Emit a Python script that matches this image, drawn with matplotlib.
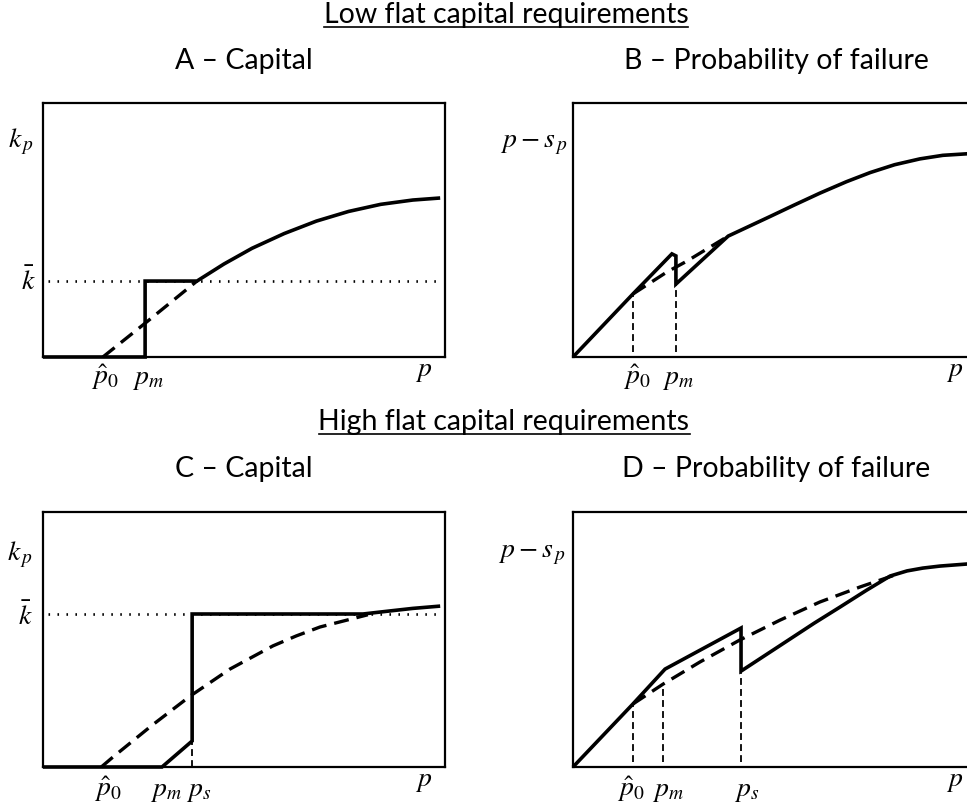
import matplotlib
matplotlib.use('Agg')
import matplotlib.pyplot as plt
from matplotlib.lines import Line2D
from matplotlib import font_manager

# ---------------- data (axes units 0..1) ----------------
# Panel A - capital, low flat requirement
A_solid_x = [0.0, 0.254, 0.254, 0.383, 0.45, 0.52, 0.60, 0.68, 0.76, 0.84, 0.92, 0.988]
A_solid_y = [0.0, 0.0, 0.299, 0.299, 0.366, 0.428, 0.486, 0.535, 0.573, 0.601, 0.618, 0.626]
A_dash_x = [0.149, 0.254, 0.383]
A_dash_y = [0.0, 0.133, 0.299]
A_kbar = 0.299
A_pm = 0.254

# Panel B - probability of failure, low flat requirement
B_solid_x = [0.0, 0.149, 0.246, 0.256, 0.256, 0.386, 0.49, 0.55, 0.614, 0.68, 0.739, 0.80, 0.863, 0.92, 0.98, 1.0]
B_solid_y = [0.0, 0.248, 0.406, 0.398, 0.287, 0.476, 0.553, 0.598, 0.645, 0.690, 0.726, 0.757, 0.780, 0.794, 0.800, 0.800]
B_dash_x = [0.149, 0.234, 0.284, 0.341, 0.386]
B_dash_y = [0.248, 0.335, 0.378, 0.433, 0.476]
B_vlines_x = [0.149, 0.256]
B_vlines_top = [0.248, 0.287]

# Panel C - capital, high flat requirement
C_solid_x = [0.0, 0.296, 0.371, 0.371, 0.796, 0.863, 0.92, 0.988]
C_solid_y = [0.0, 0.0, 0.102, 0.600, 0.600, 0.612, 0.622, 0.631]
C_dash_x = [0.145, 0.174, 0.27, 0.366, 0.465, 0.572, 0.63, 0.689, 0.808]
C_dash_y = [0.0, 0.039, 0.162, 0.278, 0.384, 0.475, 0.514, 0.549, 0.597]
C_kbar = 0.600
C_ps = 0.371
C_ps_top = 0.102

# Panel D - probability of failure, high flat requirement
D_solid_x = [0.0, 0.149, 0.229, 0.418, 0.418, 0.540, 0.60, 0.664, 0.73, 0.789, 0.831, 0.87, 0.913, 0.98, 1.0]
D_solid_y = [0.0, 0.247, 0.384, 0.545, 0.376, 0.502, 0.564, 0.627, 0.693, 0.749, 0.769, 0.780, 0.788, 0.796, 0.797]
D_dash_x = [0.149, 0.224, 0.316, 0.415, 0.515, 0.614, 0.714, 0.801]
D_dash_y = [0.247, 0.325, 0.412, 0.498, 0.576, 0.647, 0.706, 0.753]
D_vlines_x = [0.149, 0.224, 0.418]
D_vlines_top = [0.247, 0.325, 0.376]

section_titles = ["Low flat capital requirements", "High flat capital requirements"]
panel_titles = ["A \u2013 Capital", "B \u2013 Probability of failure",
                "C \u2013 Capital", "D \u2013 Probability of failure"]

# ---------------- styling ----------------
plt.rcParams['mathtext.fontset'] = 'stix'
names = {f.name for f in font_manager.fontManager.ttflist}
title_family = [n for n in ['Lato', 'Open Sans', 'DejaVu Sans'] if n in names]

W, H = 967, 812
fig = plt.figure(figsize=(W / 100, H / 100), dpi=100)

SOLID = dict(color='black', lw=2.6, solid_joinstyle='miter', solid_capstyle='butt', clip_on=False, zorder=4)
DASH = dict(color='black', lw=2.4, linestyle=(0, (4.5, 2.4)), dash_capstyle='butt', clip_on=False, zorder=3)
THIN = dict(color='black', lw=1.3, linestyle=(0, (3.8, 2.3)), clip_on=False, zorder=2)
DOT = dict(color='black', lw=1.9, linestyle=(0, (0.6, 2.8)), clip_on=False, zorder=1)
MATH = dict(fontsize=20, color='black')


def make_ax(left_px, top_px, bottom_px):
    ax = fig.add_axes([left_px / W, 1 - bottom_px / H, 402 / W, (bottom_px - top_px) / H])
    ax.set_xlim(0, 1)
    ax.set_ylim(0, 1)
    ax.set_xticks([])
    ax.set_yticks([])
    for s in ax.spines.values():
        s.set_linewidth(1.6)
    return ax


axA = make_ax(43, 104, 358)
axB = make_ax(573, 104, 358)
axC = make_ax(43, 513, 768)
axD = make_ax(573, 513, 768)

# Panel A
axA.plot([0.012, 0.993], [A_kbar, A_kbar], **DOT)
axA.plot(A_dash_x, A_dash_y, **DASH)
axA.plot(A_solid_x, A_solid_y, **SOLID)
axA.text(-0.055, 0.831, r'$k_{\,p}$', ha='center', va='baseline', **MATH)
axA.text(-0.037, 0.268, r'$\bar{k}$', ha='center', va='baseline', **MATH)
axA.text(0.154, -0.102, r'$\hat{p}_0$', ha='center', va='baseline', **MATH)
axA.text(0.262, -0.102, r'$p_m$', ha='center', va='baseline', **MATH)
axA.text(0.946, -0.069, r'$p$', ha='center', va='baseline', **MATH)

# Panel B
for vx, vt in zip(B_vlines_x, B_vlines_top):
    axB.plot([vx, vx], [0.02, vt], **THIN)
axB.plot(B_dash_x, B_dash_y, **DASH)
axB.plot(B_solid_x, B_solid_y, **SOLID)
axB.text(-0.015, 0.83, r'$p-s_{\,p}$', ha='right', va='baseline', **MATH)
axB.text(0.16, -0.102, r'$\hat{p}_0$', ha='center', va='baseline', **MATH)
axB.text(0.262, -0.102, r'$p_m$', ha='center', va='baseline', **MATH)
axB.text(0.95, -0.069, r'$p$', ha='center', va='baseline', **MATH)

# Panel C
axC.plot([0.012, 0.993], [C_kbar, C_kbar], **DOT)
axC.plot([C_ps, C_ps], [0.0, C_ps_top], **THIN)
axC.plot(C_dash_x, C_dash_y, **DASH)
axC.plot(C_solid_x, C_solid_y, **SOLID)
axC.text(-0.057, 0.816, r'$k_{\,p}$', ha='center', va='baseline', **MATH)
axC.text(-0.045, 0.561, r'$\bar{k}$', ha='center', va='baseline', **MATH)
axC.text(0.162, -0.11, r'$\hat{p}_0$', ha='center', va='baseline', **MATH)
axC.text(0.305, -0.11, r'$p_m$', ha='center', va='baseline', **MATH)
axC.text(0.388, -0.11, r'$p_s$', ha='center', va='baseline', **MATH)
axC.text(0.946, -0.07, r'$p$', ha='center', va='baseline', **MATH)

# Panel D
for vx, vt in zip(D_vlines_x, D_vlines_top):
    axD.plot([vx, vx], [0.02, vt], **THIN)
axD.plot(D_dash_x, D_dash_y, **DASH)
axD.plot(D_solid_x, D_solid_y, **SOLID)
axD.text(-0.02, 0.824, r'$p-s_{\,p}$', ha='right', va='baseline', **MATH)
axD.text(0.145, -0.11, r'$\hat{p}_0$', ha='center', va='baseline', **MATH)
axD.text(0.235, -0.11, r'$p_m$', ha='center', va='baseline', **MATH)
axD.text(0.432, -0.11, r'$p_s$', ha='center', va='baseline', **MATH)
axD.text(0.95, -0.07, r'$p$', ha='center', va='baseline', **MATH)

# Titles
TFONT = dict(family=title_family, fontsize=20.5, color='black')
sec = []
for txt, (cx, by) in zip(section_titles, [(506, 23), (504, 430)]):
    sec.append(fig.text(cx / W, 1 - by / H, txt, ha='center', va='baseline', **TFONT))
for txt, (cx, by) in zip(panel_titles, [(244, 69), (776, 69), (244, 477), (776, 477)]):
    fig.text(cx / W, 1 - by / H, txt, ha='center', va='baseline', **TFONT)

fig.canvas.draw()
r = fig.canvas.get_renderer()
for t, uy in zip(sec, [28, 435]):
    bb = t.get_window_extent(r)
    fig.add_artist(Line2D([bb.x0 / W, bb.x1 / W], [1 - uy / H, 1 - uy / H],
                          transform=fig.transFigure, color='black', lw=1.2))

fig.savefig('out.png', dpi=100)
